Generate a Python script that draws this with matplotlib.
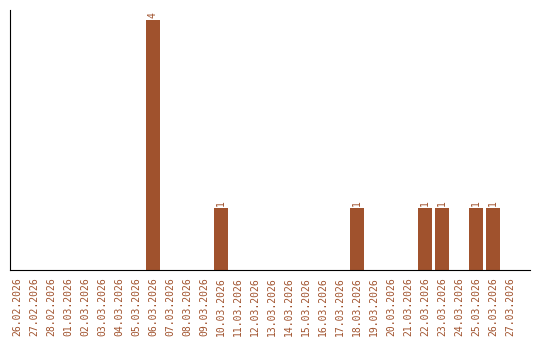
import matplotlib
matplotlib.use("Agg")
import matplotlib.pyplot as plt

dates = ["26.02.2026", "27.02.2026", "28.02.2026", "01.03.2026", "02.03.2026",
         "03.03.2026", "04.03.2026", "05.03.2026", "06.03.2026", "07.03.2026",
         "08.03.2026", "09.03.2026", "10.03.2026", "11.03.2026", "12.03.2026",
         "13.03.2026", "14.03.2026", "15.03.2026", "16.03.2026", "17.03.2026",
         "18.03.2026", "19.03.2026", "20.03.2026", "21.03.2026", "22.03.2026",
         "23.03.2026", "24.03.2026", "25.03.2026", "26.03.2026", "27.03.2026"]
counts = [0, 0, 0, 0, 0, 0, 0, 0, 4, 0,
          0, 0, 1, 0, 0, 0, 0, 0, 0, 0,
          1, 0, 0, 0, 1, 1, 0, 1, 1, 0]

color = "#a0522d"

fig = plt.figure(figsize=(5.4, 3.4), dpi=100)
ax = fig.add_axes([10 / 540, 70 / 340, 520 / 540, 260 / 340])

x = list(range(len(dates)))
ax.bar(x, counts, width=0.82, color=color)
for xi, c in zip(x, counts):
    if c > 0:
        ax.text(xi, c + 0.03, str(c), rotation=90, ha="center", va="bottom",
                color=color, fontsize=7, family="DejaVu Sans Mono")

ax.set_xlim(-0.41, 30.18)
ax.set_ylim(0, 4.16)
ax.set_xticks(x)
ax.set_xticklabels(dates, rotation=90, color=color, fontsize=7,
                   family="DejaVu Sans Mono")
ax.tick_params(axis="x", length=0, pad=5)
ax.set_yticks([])
ax.spines["top"].set_visible(False)
ax.spines["right"].set_visible(False)

fig.savefig("out.png", dpi=100)
